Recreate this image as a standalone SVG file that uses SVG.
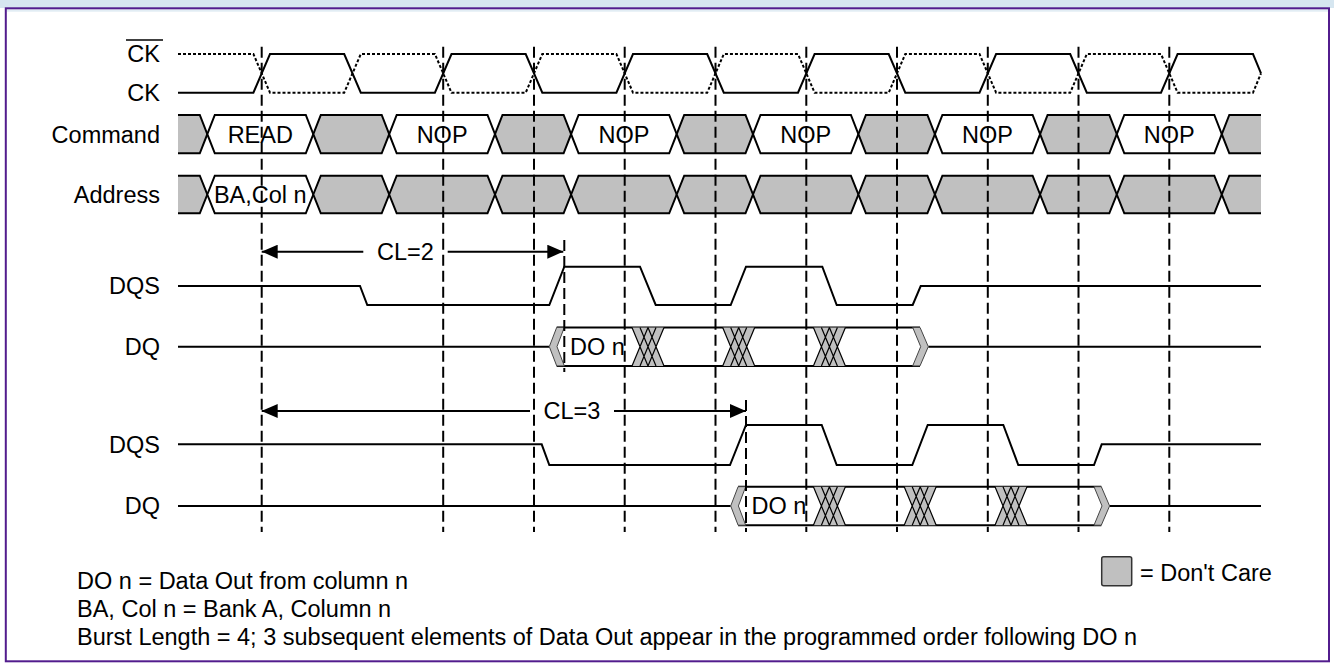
<svg xmlns="http://www.w3.org/2000/svg" xmlns:xlink="http://www.w3.org/1999/xlink" width="1334" height="664" viewBox="0 0 1334 664">
<style>
.t{font-family:"Liberation Sans",Arial,sans-serif;font-size:23.5px;fill:#000}
.ln{fill:none;stroke:#000;stroke-width:2}
.g{fill:#c0c0c0;stroke:#000;stroke-width:2;stroke-linejoin:miter}
.w{fill:#fff;stroke:#000;stroke-width:2;stroke-linejoin:miter}
.dot{fill:none;stroke:#000;stroke-width:2;stroke-dasharray:3,2}
.dash{fill:none;stroke:#000;stroke-width:2;stroke-dasharray:11,5}
.arr{fill:none;stroke:#000;stroke-width:2;marker-end:url(#ah)}
</style>
<defs>
<marker id="ah" viewBox="0 0 16 14" refX="16" refY="7" markerWidth="16" markerHeight="14" markerUnits="userSpaceOnUse" orient="auto">
<path d="M0,0 L16,7 L0,14 z" fill="#000"/>
</marker>
<g id="xc">
<polygon points="0,0 32,0 24,19.25 32,38.5 0,38.5 8,19.25" fill="#c0c0c0"/>
<path d="M0,0 L16,38.5 M8,0 L24,38.5 M16,0 L32,38.5 M0,38.5 L16,0 M8,38.5 L24,0 M16,38.5 L32,0" fill="none" stroke="#000" stroke-width="1.2"/>
</g>
<polygon id="chl" points="7.4,0 15,0 7.7,19.25 15,38.5 7.4,38.5 0,19.25" fill="#c0c0c0" stroke="#444" stroke-width="1"/>
<polygon id="chr" points="0,0 7.3,0 15.6,19.25 7.3,38.5 0,38.5 8,19.25" fill="#c0c0c0" stroke="#444" stroke-width="1"/>
</defs>

<rect x="0" y="0" width="1334" height="664" fill="#fff"/>
<rect x="0" y="0" width="1334" height="8" fill="#d6e6f0"/>
<rect x="7" y="9.3" width="1321" height="2.4" fill="#e2edf4"/>
<rect x="5.8" y="8.3" width="1323.2" height="653" fill="none" stroke="#521c8d" stroke-width="2"/>

<g id="ckb">
<text class="t" x="160" y="62.3" text-anchor="end">CK</text>
<line x1="126" y1="40" x2="163" y2="40" stroke="#000" stroke-width="1.5"/>
<path class="dot" d="M178,54 H253.4 L270,92.7 H344.2 L360.8,54 H434.9 L451.5,92.7 H525.7 L542.3,54 H616.4 L633,92.7 H707.2 L723.8,54 H798 L814.6,92.7 H888.7 L905.3,54 H979.5 L996.1,92.7 H1070.2 L1086.8,54 H1161 L1177.6,92.7 H1253 L1261,73.3"/>
</g>
<g id="ck">
<text class="t" x="160" y="100.5" text-anchor="end">CK</text>
<path class="ln" d="M178,92.7 H253.4 L270,54 H344.2 L360.8,92.7 H434.9 L451.5,54 H525.7 L542.3,92.7 H616.4 L633,54 H707.2 L723.8,92.7 H798 L814.6,54 H888.7 L905.3,92.7 H979.5 L996.1,54 H1070.2 L1086.8,92.7 H1161 L1177.6,54 H1253 L1261,73.3"/>
</g>

<g id="command">
<text class="t" x="160" y="142.6" text-anchor="end">Command</text>
<path class="g" d="M178,115 H199.8 L207.3,134.15 L199.8,153.3 H178"/>
<polygon class="w" points="207.3,134.15 214.8,115 305.8,115 313.3,134.15 305.8,153.3 214.8,153.3"/>
<polygon class="g" points="313.3,134.15 320.8,115 381.7,115 389.2,134.15 381.7,153.3 320.8,153.3"/>
<polygon class="w" points="389.2,134.15 396.7,115 487.5,115 495,134.15 487.5,153.3 396.7,153.3"/>
<polygon class="g" points="495,134.15 502.5,115 563.6,115 571.1,134.15 563.6,153.3 502.5,153.3"/>
<polygon class="w" points="571.1,134.15 578.6,115 669.2,115 676.7,134.15 669.2,153.3 578.6,153.3"/>
<polygon class="g" points="676.7,134.15 684.2,115 745.5,115 753,134.15 745.5,153.3 684.2,153.3"/>
<polygon class="w" points="753,134.15 760.5,115 850.9,115 858.4,134.15 850.9,153.3 760.5,153.3"/>
<polygon class="g" points="858.4,134.15 865.9,115 927.4,115 934.9,134.15 927.4,153.3 865.9,153.3"/>
<polygon class="w" points="934.9,134.15 942.4,115 1032.6,115 1040.1,134.15 1032.6,153.3 942.4,153.3"/>
<polygon class="g" points="1040.1,134.15 1047.6,115 1109.3,115 1116.8,134.15 1109.3,153.3 1047.6,153.3"/>
<polygon class="w" points="1116.8,134.15 1124.3,115 1214.3,115 1221.8,134.15 1214.3,153.3 1124.3,153.3"/>
<path class="g" d="M1261,115 H1229.3 L1221.8,134.15 L1229.3,153.3 H1261"/>
<text class="t" x="260.3" y="142.6" text-anchor="middle">READ</text>
<text class="t" x="442.1" y="142.6" text-anchor="middle">NOP</text>
<text class="t" x="623.9" y="142.6" text-anchor="middle">NOP</text>
<text class="t" x="805.7" y="142.6" text-anchor="middle">NOP</text>
<text class="t" x="987.5" y="142.6" text-anchor="middle">NOP</text>
<text class="t" x="1169.3" y="142.6" text-anchor="middle">NOP</text>
</g>

<g id="address">
<text class="t" x="160" y="203" text-anchor="end">Address</text>
<path class="g" d="M178,175.7 H199.8 L207.3,194.5 L199.8,213.3 H178"/>
<polygon class="w" points="207.3,194.5 214.8,175.7 305.8,175.7 313.3,194.5 305.8,213.3 214.8,213.3"/>
<polygon class="g" points="313.3,194.5 320.8,175.7 381.7,175.7 389.2,194.5 381.7,213.3 320.8,213.3"/>
<polygon class="g" points="389.2,194.5 396.7,175.7 487.5,175.7 495,194.5 487.5,213.3 396.7,213.3"/>
<polygon class="g" points="495,194.5 502.5,175.7 563.6,175.7 571.1,194.5 563.6,213.3 502.5,213.3"/>
<polygon class="g" points="571.1,194.5 578.6,175.7 669.2,175.7 676.7,194.5 669.2,213.3 578.6,213.3"/>
<polygon class="g" points="676.7,194.5 684.2,175.7 745.5,175.7 753,194.5 745.5,213.3 684.2,213.3"/>
<polygon class="g" points="753,194.5 760.5,175.7 850.9,175.7 858.4,194.5 850.9,213.3 760.5,213.3"/>
<polygon class="g" points="858.4,194.5 865.9,175.7 927.4,175.7 934.9,194.5 927.4,213.3 865.9,213.3"/>
<polygon class="g" points="934.9,194.5 942.4,175.7 1032.6,175.7 1040.1,194.5 1032.6,213.3 942.4,213.3"/>
<polygon class="g" points="1040.1,194.5 1047.6,175.7 1109.3,175.7 1116.8,194.5 1109.3,213.3 1047.6,213.3"/>
<polygon class="g" points="1116.8,194.5 1124.3,175.7 1214.3,175.7 1221.8,194.5 1214.3,213.3 1124.3,213.3"/>
<path class="g" d="M1261,175.7 H1229.3 L1221.8,194.5 L1229.3,213.3 H1261"/>
<text class="t" x="260.3" y="203" text-anchor="middle">BA,Col n</text>
</g>

<g id="dqs-cl2">
<text class="t" x="160" y="294.3" text-anchor="end">DQS</text>
<path class="ln" d="M178,286 H360 L367.3,305 H549.3 L564.3,266.7 H640 L655.7,305 H730.7 L746,266.7 H822.3 L836.7,305 H912.7 L920.7,286 H1261"/>
</g>

<g id="dq-cl2">
<text class="t" x="160" y="355" text-anchor="end">DQ</text>
<path class="ln" d="M178,346.65 H549.3 M928.3,346.65 H1261 M556.7,327.4 H920 M556.7,365.9 H920"/>
<use xlink:href="#xc" href="#xc" x="632" y="327.4"/>
<use xlink:href="#xc" href="#xc" x="722.7" y="327.4"/>
<use xlink:href="#xc" href="#xc" x="813.4" y="327.4"/>
<use xlink:href="#chl" href="#chl" x="549.3" y="327.4"/>
<use xlink:href="#chr" href="#chr" x="912.7" y="327.4"/>
<text class="t" x="570" y="355">DO n</text>
</g>

<g id="dqs-cl3">
<text class="t" x="160" y="452.5" text-anchor="end">DQS</text>
<path class="ln" d="M178,444.3 H541.7 L549.3,465 H730 L746,425 H821.7 L836.7,465 H912.3 L927.7,425 H1003.3 L1018.3,465 H1094 L1101.7,444.3 H1261"/>
</g>

<g id="dq-cl3">
<text class="t" x="160" y="514" text-anchor="end">DQ</text>
<path class="ln" d="M178,505.95 H730.7 M1109.6,505.95 H1261 M738.1,486.7 H1101.3 M738.1,525.2 H1101.3"/>
<use xlink:href="#xc" href="#xc" x="813.4" y="486.7"/>
<use xlink:href="#xc" href="#xc" x="904.2" y="486.7"/>
<use xlink:href="#xc" href="#xc" x="995" y="486.7"/>
<use xlink:href="#chl" href="#chl" x="730.7" y="486.7"/>
<use xlink:href="#chr" href="#chr" x="1094" y="486.7"/>
<text class="t" x="751.5" y="514.3">DO n</text>
</g>

<g id="connectors">
<path class="dash" d="M261.7,46.7 V532 M443.2,46.7 V532 M534,46.7 V532 M624.7,46.7 V532 M715.5,46.7 V532 M806.3,46.7 V532 M897,46.7 V532 M987.8,46.7 V532 M1078.5,46.7 V532 M1169.3,46.7 V532"/>
<path class="dash" d="M564.3,240 V372 M746,400 V532"/>
<line class="arr" x1="363.3" y1="251.7" x2="261.7" y2="251.7"/>
<line class="arr" x1="447.7" y1="251.7" x2="563.3" y2="251.7"/>
<line class="arr" x1="530" y1="411" x2="261.7" y2="411"/>
<line class="arr" x1="614" y1="411" x2="746" y2="411"/>
</g>
<g id="cl-labels">
<text class="t" x="405.5" y="259.5" text-anchor="middle">CL=2</text>
<text class="t" x="572" y="418.5" text-anchor="middle">CL=3</text>
</g>

<g id="legend">
<rect x="1101.7" y="556.7" width="30" height="29" rx="2" fill="#c0c0c0" stroke="#333" stroke-width="1.5"/>
<text class="t" x="1140" y="581">= Don't Care</text>
</g>

<g id="notes">
<text class="t" x="77" y="589">DO n = Data Out from column n</text>
<text class="t" x="77" y="617">BA, Col n = Bank A, Column n</text>
<text class="t" x="77" y="645">Burst Length = 4; 3 subsequent elements of Data Out appear in the programmed order following DO n</text>
</g>
</svg>
